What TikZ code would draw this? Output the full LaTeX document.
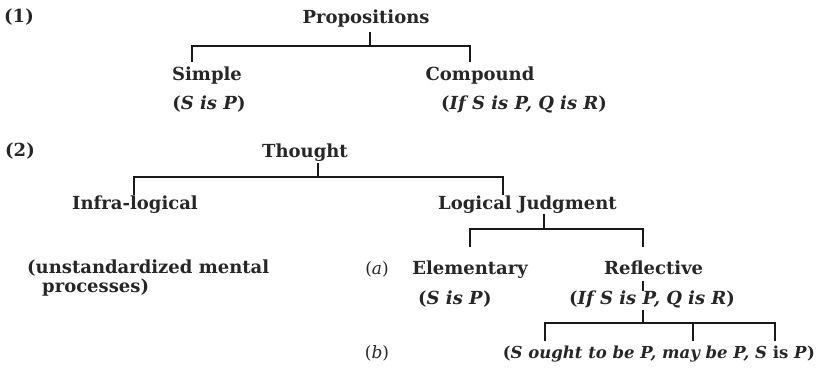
\documentclass[tikz,border=0pt]{standalone}
\usepackage{fontspec}
\setmainfont{DejaVu Serif}
\begin{document}
\begin{tikzpicture}[x=1pt,y=-1pt,
  txt/.style={font=\bfseries\fontsize{18}{20}\selectfont, inner sep=0pt, anchor=base, text=black!85},
  lft/.style={txt, anchor=base west},
  rgt/.style={txt, anchor=base east},
  lab/.style={font=\fontsize{17}{19}\selectfont, inner sep=0pt, anchor=base, text=black!85},
  br/.style={line width=1.7pt, black!90},
  thin/.style={line width=1.1pt, black!90}
]
\useasboundingbox (0,0) rectangle (818,381);
% (1)
\node[txt] (n1) at (19,22) {(1)};
\node[txt] (prop) at (366,23) {Propositions};
\node[txt] (simple) at (207,80) {Simple};
\node[txt] (comp) at (480,80) {Compound};
\node[txt] (sp1) at (209,109) {(\textit{S is P})};
\node[txt] (ifs1) at (524,109) {(\textit{If S is P, Q is R})};
\coordinate (b1t) at (370,32);
\coordinate (b1m) at (370,46);
\coordinate (b1l) at (192,62);
\coordinate (b1r) at (470,62);
\draw[br] (b1t) -- (b1m);
\draw[br] (b1l) |- (b1m) -| (b1r);
% (2)
\node[txt] (n2) at (20,156) {(2)};
\node[txt] (thought) at (305,157) {Thought};
\node[rgt] (infra) at (198,209) {Infra-logical};
\node[lft] (logic) at (438,209) {Logical Judgment};
\node[lft] (unst) at (27,273) {(unstandardized mental};
\node[lft] (proc) at (42,292) {processes)};
\coordinate (b2t) at (318,163);
\coordinate (b2m) at (318,177);
\coordinate (b2l) at (134,195);
\coordinate (b2r) at (503,195);
\draw[br] (b2t) -- (b2m);
\draw[br] (b2l) |- (b2m) -| (b2r);
% (a)
\node[lab] (a) at (377,274) {(\textit{a})};
\node[rgt] (elem) at (528,274) {Elementary};
\node[lft] (refl) at (604,274) {Reflective};
\node[lft] (sp2) at (418,304) {(\textit{S is P})};
\node[txt] (ifs2) at (652,304) {(\textit{If S is P, Q is R})};
\coordinate (b3t) at (544,214);
\coordinate (b3m) at (544,229);
\coordinate (b3l) at (470,247);
\coordinate (b3r) at (643,247);
\draw[br] (b3t) -- (b3m);
\draw[br] (b3l) |- (b3m) -| (b3r);
\coordinate (r1) at (643,281);
\coordinate (r2) at (643,291);
\draw[thin] (r1) -- (r2);
% (b)
\node[lab] (b) at (377,358) {(\textit{b})};
\node[txt, anchor=base east, font=\bfseries\fontsize{16.5}{19}\selectfont] (last) at (815,358) {(\textit{S ought to be P, may be P, S} is \textit{P})};
\coordinate (b4t) at (643,310);
\coordinate (b4m) at (643,323);
\coordinate (b4l) at (545,341);
\coordinate (b4c) at (693,341);
\coordinate (b4r) at (775,341);
\draw[br] (b4t) -- (b4m);
\draw[br] (b4l) |- (b4m) -| (b4r);
\draw[br] (b4c) -- (b4c |- b4m);
\end{tikzpicture}
\end{document}
